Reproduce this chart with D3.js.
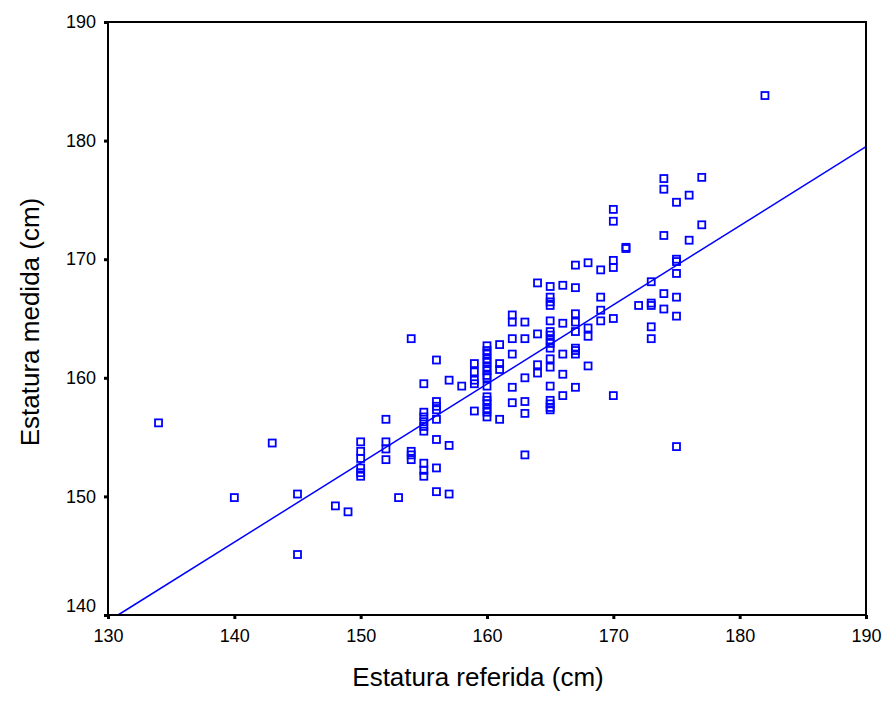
<!DOCTYPE html>
<html>
<head>
<meta charset="utf-8">
<script src="https://cdn.jsdelivr.net/npm/d3@7"></script>
<style>
	body { margin: 0; background: #fff; }
	text { font-family: "Liberation Sans", Arial, sans-serif; }
</style>
</head>
<body>
<svg id="chart" width="884" height="718"></svg>
<script>

//DATA

var estaturaReferida = [
	134, 140, 143, 145, 145, 148, 149,
	150, 150, 150, 150, 150, 150,
	152, 152, 152, 152, 153,
	154, 154, 154, 154,
	155, 155, 155, 155, 155, 155, 155, 155, 155,
	156, 156, 156, 156, 156, 156, 156, 156,
	157, 157, 157, 158,
	159, 159, 159, 159, 159,
	160, 160, 160, 160, 160, 160, 160, 160, 160, 160, 160, 160, 160, 160, 160, 160,
	161, 161, 161, 161,
	162, 162, 162, 162, 162, 162,
	163, 163, 163, 163, 163, 163,
	164, 164, 164, 164,
	165, 165, 165, 165, 165, 165, 165, 165, 165, 165, 165, 165, 165, 165, 165, 165, 165,
	166, 166, 166, 166, 166,
	167, 167, 167, 167, 167, 167, 167, 167, 167,
	168, 168, 168, 168,
	169, 169, 169, 169,
	170, 170, 170, 170, 170, 170,
	171, 171, 172,
	173, 173, 173, 173, 173,
	174, 174, 174, 174, 174,
	175, 175, 175, 175, 175, 175, 175,
	176, 176, 177, 177, 182
];

var estaturaMedida = [
	156.2, 149.9, 154.5, 150.2, 145.1, 149.2, 148.7,
	154.6, 153.8, 153.2, 152.4, 152.0, 151.7,
	156.5, 154.6, 154.0, 153.1, 149.9,
	163.3, 153.8, 153.5, 153.1,
	159.5, 157.1, 156.7, 156.3, 155.9, 155.5, 152.8, 152.2, 151.7,
	161.5, 158.0, 157.6, 157.3, 156.5, 154.8, 152.4, 150.4,
	159.8, 154.3, 150.2, 159.3,
	161.2, 160.5, 159.8, 159.5, 157.2,
	162.7, 162.3, 162.0, 161.6, 161.3, 160.9, 160.6, 160.2, 160.0, 159.3, 158.4, 158.1, 157.8, 157.4, 157.1, 156.7,
	162.8, 161.2, 160.7, 156.5,
	165.3, 164.7, 163.3, 162.0, 159.2, 157.9,
	164.7, 163.3, 160.0, 158.0, 157.0, 153.5,
	168.0, 163.7, 161.1, 160.4,
	167.7, 166.8, 166.4, 166.1, 164.8, 163.9, 163.6, 163.2, 162.9, 162.5, 161.6, 160.9, 159.3, 158.1, 157.8, 157.5, 157.3,
	167.8, 164.6, 162.0, 160.3, 158.5,
	169.5, 167.6, 165.4, 164.7, 163.9, 162.5, 162.3, 162.0, 159.2,
	169.7, 164.2, 163.5, 161.0,
	169.1, 166.8, 165.7, 164.8,
	174.2, 173.2, 169.9, 169.3, 165.0, 158.5,
	171.0, 170.9, 166.1,
	168.1, 166.3, 166.1, 164.3, 163.3,
	176.8, 175.9, 172.0, 167.1, 165.8,
	174.8, 170.0, 169.8, 168.8, 166.8, 165.2, 154.2,
	175.4, 171.6, 176.9, 172.9, 183.8
];

//fit line as drawn in the picture: medida = intercept + slope * referida
var fitIntercept = 52.76;
var fitSlope = 0.667;

var xTicks = [130, 140, 150, 160, 170, 180, 190];
var yTicks = [140, 150, 160, 170, 180, 190];

var xLabel = "Estatura referida (cm)";
var yLabel = "Estatura medida (cm)";

var points = estaturaReferida.map((d, i) => ({ x: d, y: estaturaMedida[i] }));

//LAYOUT

var margin = {
	top: 22, bottom: 103,
	left: 108, right: 18
};

var svg = d3.select("#chart");
var outerWidth = +svg.attr("width");
var outerHeight = +svg.attr("height");

var width = outerWidth - margin.left - margin.right;
var height = outerHeight - margin.top - margin.bottom;

var g = svg.append("g")
	.attr("transform", "translate(" + margin.left + "," + margin.top + ")");

//scales
var xScale = d3.scaleLinear()
	.domain([130, 190])
	.range([0, width]);

var yScale = d3.scaleLinear()
	.domain([140, 190])
	.range([height, 0]);

//fit line, clipped to the plot box
var x0 = Math.max(130, (140 - fitIntercept) / fitSlope);
var x1 = 190;

g.append("line")
	.attr("x1", xScale(x0))
	.attr("y1", yScale(fitIntercept + fitSlope * x0))
	.attr("x2", xScale(x1))
	.attr("y2", yScale(fitIntercept + fitSlope * x1))
	.attr("stroke", "#0000ff")
	.attr("stroke-width", 1.5);

//the points, hollow squares
g.selectAll("rect.pt")
	.data(points)
	.enter()
	.append("rect")
	.attr("class", "pt")
	.attr("x", d => xScale(d.x) - 3.5)
	.attr("y", d => yScale(d.y) - 3.5)
	.attr("width", 7)
	.attr("height", 7)
	.attr("fill", "none")
	.attr("stroke", "#0000ff")
	.attr("stroke-width", 1.8);

//frame
g.append("rect")
	.attr("width", width)
	.attr("height", height)
	.attr("fill", "none")
	.attr("stroke", "#000")
	.attr("stroke-width", 2);

//x axis
var xAxis = d3.axisBottom()
	.scale(xScale)
	.tickValues(xTicks)
	.tickSize(4)
	.tickPadding(10);

var gx = g.append("g")
	.attr("class", "xAxis")
	.attr("transform", "translate(0," + height + ")")
	.call(xAxis);

//y axis
var yAxis = d3.axisLeft()
	.scale(yScale)
	.tickValues(yTicks)
	.tickSize(4)
	.tickPadding(8);

var gy = g.append("g")
	.attr("class", "yAxis")
	.call(yAxis);

[gx, gy].forEach(a => {
	a.select(".domain").remove();
	a.selectAll(".tick line")
		.attr("stroke", "#000")
		.attr("stroke-width", 3);
	a.selectAll(".tick text")
		.attr("fill", "#000")
		.style("font-size", "18px");
});

//lowest y label sits a bit higher, like spss does
gy.selectAll(".tick text")
	.filter(d => d == 140)
	.attr("dy", "-0.2em");

//axis titles
svg.append("text")
	.attr("x", 478)
	.attr("y", 686)
	.attr("text-anchor", "middle")
	.style("font-size", "26px")
	.text(xLabel);

svg.append("text")
	.attr("transform", "translate(39,322) rotate(-90)")
	.attr("text-anchor", "middle")
	.style("font-size", "26px")
	.text(yLabel);

</script>
</body>
</html>
